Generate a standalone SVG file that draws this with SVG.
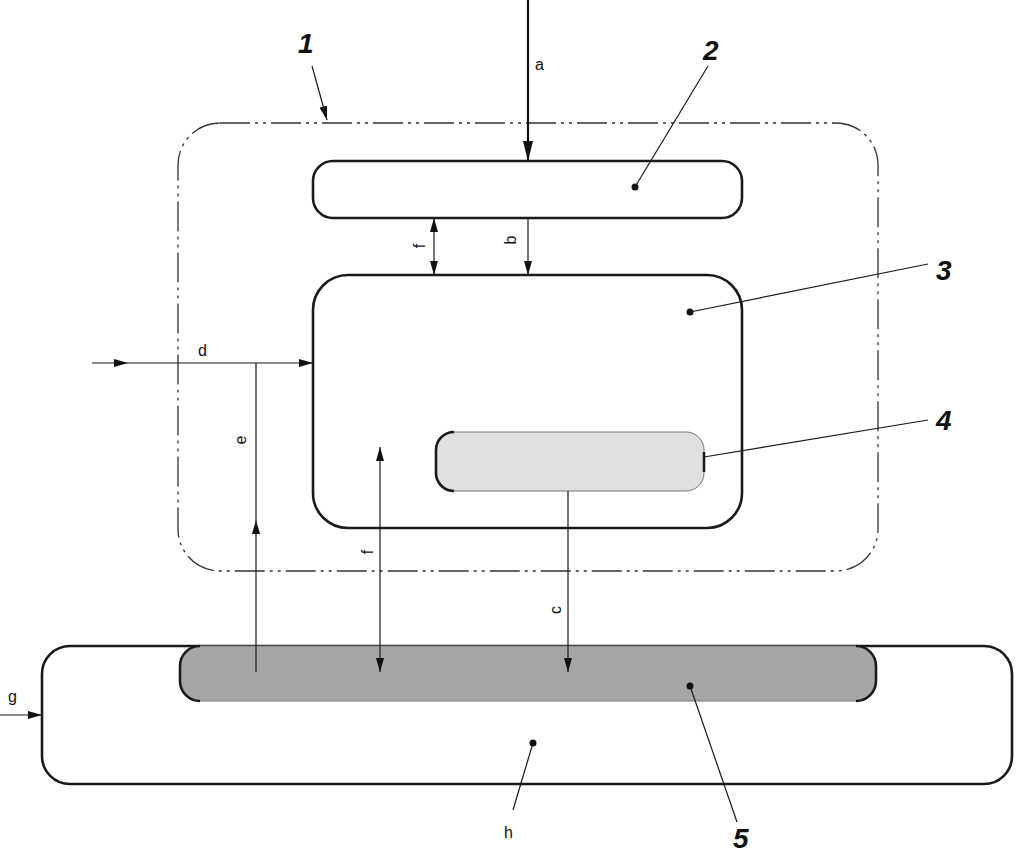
<svg xmlns="http://www.w3.org/2000/svg" width="1016" height="854" viewBox="0 0 1016 854">
<style>
.box{fill:#fff;stroke:#1a1a1a;stroke-width:2.6}
.bound{fill:none;stroke:#333;stroke-width:1.3;stroke-dasharray:30 5 3 5 3 5}
.ln{fill:none;stroke:#1a1a1a;stroke-width:1.2}
.thick{fill:none;stroke:#1a1a1a;stroke-width:2.6}
.lbl{font-family:"Liberation Sans",Arial,sans-serif;font-size:16px;fill:#111}
.num{font-family:"Liberation Sans",Arial,sans-serif;font-size:28px;font-weight:bold;font-style:italic;fill:#111}
.dot{fill:#111}
</style>
<defs>
<marker id="ah" viewBox="0 0 14 8" refX="14" refY="4" markerWidth="14" markerHeight="8" markerUnits="userSpaceOnUse" orient="auto-start-reverse">
<path d="M0,0 L14,4 L0,8 Z" fill="#111"/>
</marker>
<marker id="ahb" viewBox="0 0 20 10" refX="20" refY="5" markerWidth="20" markerHeight="10" markerUnits="userSpaceOnUse" orient="auto">
<path d="M0,0 L20,5 L0,10 Z" fill="#111"/>
</marker>
</defs>
<rect width="1016" height="854" fill="#fff"/>

<g id="node-1">
<rect class="bound" x="178" y="123" width="700" height="448" rx="42" ry="42"/>
<text class="num" x="298" y="53">1</text>
</g>

<g id="node-h">
<rect class="box" x="42" y="646" width="970" height="138" rx="28" ry="28"/>
<circle class="dot" cx="533" cy="743" r="3.5"/>
<text class="lbl" x="504" y="838">h</text>
</g>

<g id="node-5">
<rect x="180" y="646" width="696" height="55" rx="20" ry="20" fill="#a6a6a6" stroke="#777" stroke-width="1"/>
<path class="thick" d="M200,646 A20,20 0 0 0 180,666 L180,681 A20,20 0 0 0 200,701"/>
<path class="thick" d="M856,646 A20,20 0 0 1 876,666 L876,681 A20,20 0 0 1 856,701"/>
<circle class="dot" cx="690" cy="686" r="3.5"/>
<text class="num" x="733" y="848">5</text>
</g>

<g id="node-2">
<rect class="box" x="313" y="161" width="429" height="57" rx="20" ry="20"/>
<circle class="dot" cx="635" cy="187" r="3.5"/>
<text class="num" x="703" y="60">2</text>
</g>

<g id="node-3">
<rect class="box" x="313" y="275" width="429" height="253" rx="35" ry="35"/>
<circle class="dot" cx="690" cy="312" r="3.5"/>
<text class="num" x="936" y="280">3</text>
</g>

<g id="node-4">
<rect x="436" y="432" width="268" height="59" rx="18" ry="18" fill="#e0e0e0" stroke="#777" stroke-width="1"/>
<path class="thick" d="M454,432 A18,18 0 0 0 436,450 L436,473 A18,18 0 0 0 454,491"/>
<path class="thick" d="M704,452 L704,472"/>
<text class="num" x="936" y="430">4</text>
</g>

<g id="connectors">
<line x1="528" y1="0" x2="528" y2="161" stroke="#111" stroke-width="2.2" marker-end="url(#ahb)"/>
<text class="lbl" x="535" y="70">a</text>
<line class="ln" x1="528" y1="218" x2="528" y2="275" marker-end="url(#ah)"/>
<text class="lbl" transform="translate(516,240) rotate(-90)" text-anchor="middle">b</text>
<line class="ln" x1="434" y1="218" x2="434" y2="275" marker-start="url(#ah)" marker-end="url(#ah)"/>
<text class="lbl" transform="translate(425,246) rotate(-90)" text-anchor="middle">f</text>
<line class="ln" x1="92" y1="363" x2="128" y2="363" marker-end="url(#ah)"/>
<line class="ln" x1="128" y1="363" x2="313" y2="363" marker-end="url(#ah)"/>
<text class="lbl" x="198" y="356">d</text>
<line class="ln" x1="256" y1="672" x2="256" y2="520" marker-end="url(#ah)"/>
<line class="ln" x1="256" y1="520" x2="256" y2="363"/>
<text class="lbl" transform="translate(246,440) rotate(-90)" text-anchor="middle">e</text>
<line class="ln" x1="380" y1="447" x2="380" y2="672" marker-start="url(#ah)" marker-end="url(#ah)"/>
<text class="lbl" transform="translate(373,552) rotate(-90)" text-anchor="middle">f</text>
<line class="ln" x1="568" y1="491" x2="568" y2="672" marker-end="url(#ah)"/>
<text class="lbl" transform="translate(561,610) rotate(-90)" text-anchor="middle">c</text>
<line class="ln" x1="0" y1="715" x2="42" y2="715" marker-end="url(#ah)"/>
<text class="lbl" x="8" y="702">g</text>
<line class="ln" x1="312" y1="66" x2="327" y2="120" marker-end="url(#ah)"/>
<line class="ln" x1="708" y1="66" x2="635" y2="187"/>
<line class="ln" x1="928" y1="264" x2="690" y2="312"/>
<line class="ln" x1="928" y1="420" x2="704" y2="457"/>
<line class="ln" x1="533" y1="743" x2="513" y2="810"/>
<line class="ln" x1="690" y1="686" x2="737" y2="822"/>
</g>
</svg>
